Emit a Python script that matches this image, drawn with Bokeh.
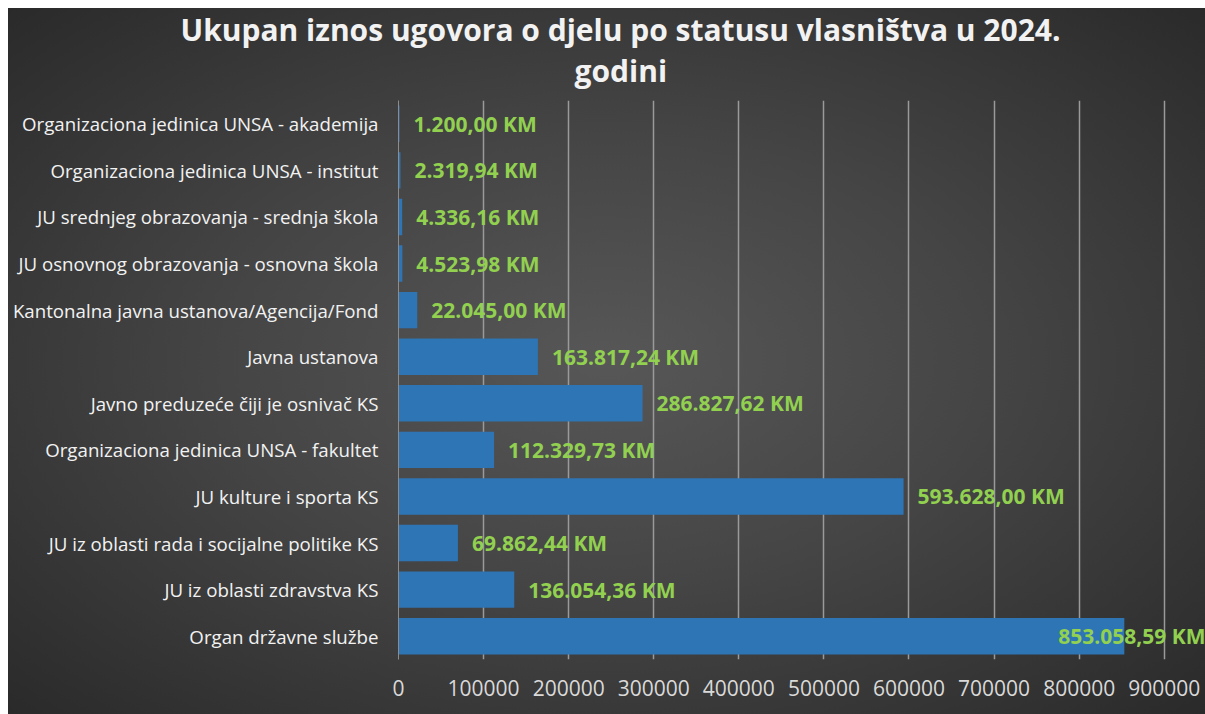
from bokeh.plotting import figure
from bokeh.models import FactorRange, FixedTicker, NumeralTickFormatter, Title, ColumnDataSource, Range1d
from bokeh.core.properties import value
from bokeh.embed import file_html
from bokeh.resources import INLINE

categories = [
    "Organizaciona jedinica UNSA - akademija",
    "Organizaciona jedinica UNSA - institut",
    "JU srednjeg obrazovanja - srednja škola",
    "JU osnovnog obrazovanja - osnovna škola",
    "Kantonalna javna ustanova/Agencija/Fond",
    "Javna ustanova",
    "Javno preduzeće čiji je osnivač KS",
    "Organizaciona jedinica UNSA - fakultet",
    "JU kulture i sporta KS",
    "JU iz oblasti rada i socijalne politike KS",
    "JU iz oblasti zdravstva KS",
    "Organ državne službe",
]
amounts = [1200.00, 2319.94, 4336.16, 4523.98, 22045.00, 163817.24, 286827.62,
           112329.73, 593628.00, 69862.44, 136054.36, 853058.59]
x_ticks = [0, 100000, 200000, 300000, 400000, 500000, 600000, 700000, 800000, 900000]
title_line1 = "Ukupan iznos ugovora o djelu po statusu vlasništva u 2024."
title_line2 = "godini"


def fmt_km(v):
    s = f"{v:,.2f}".replace(",", "X").replace(".", ",").replace("X", ".")
    return s + " KM"


labels = [fmt_km(v) for v in amounts]
offsets = [14 if v < 800000 else -66 for v in amounts]

src = ColumnDataSource(dict(cat=categories, amt=amounts, lab=labels, off=offsets))

FONT = "Open Sans"

p = figure(
    width=1197, height=706,
    y_range=FactorRange(*list(reversed(categories)), range_padding=0),
    x_range=Range1d(0, 948500),
    output_backend="svg", toolbar_location=None,
    min_border_left=390, min_border_right=0, min_border_top=92, min_border_bottom=55,
)
p.margin = (8, 0, 0, 8)
p.styles = {"background": "radial-gradient(ellipse at 50% 50%, #575757 0%, #454545 45%, #2a2a2a 100%)"}
p.background_fill_color = None
p.border_fill_color = None
p.outline_line_color = None

p.hbar(y="cat", right="amt", left=0, height=0.78, source=src,
       fill_color="#2E75B6", line_color=None)

p.text(x="amt", y="cat", text="lab", x_offset="off", source=src,
       text_font=value(FONT), text_font_style="bold", text_font_size="21px",
       text_color="#92D050", text_align="left", text_baseline="middle")

# axes
p.xaxis.ticker = FixedTicker(ticks=x_ticks)
p.xaxis.formatter = NumeralTickFormatter(format="0")
p.xaxis.axis_line_color = None
p.xaxis.major_tick_line_color = None
p.xaxis.minor_tick_line_color = None
p.xaxis.major_label_text_font = FONT
p.xaxis.major_label_text_font_size = "21px"
p.xaxis.major_label_text_color = "#d9d9d9"
p.xaxis.major_label_standoff = 14

p.yaxis.axis_line_color = "#8c8c8c"
p.yaxis.major_tick_line_color = None
p.yaxis.minor_tick_line_color = None
p.yaxis.major_label_text_font = FONT
p.yaxis.major_label_text_font_size = "18.7px"
p.yaxis.major_label_text_color = "#f2f2f2"
p.yaxis.major_label_standoff = 14

p.xgrid.grid_line_color = "#9a9a9a"
p.xgrid.grid_line_width = 1.5
p.ygrid.grid_line_color = None

t2 = Title(text=title_line2, align="left", offset=176, standoff=20, text_font=FONT,
           text_font_size="30px", text_font_style="bold", text_color="#f2f2f2")
t1 = Title(text=title_line1, align="left", offset=-218, standoff=-24, text_font=FONT,
           text_font_size="30px", text_font_style="bold", text_color="#f2f2f2")
p.add_layout(t2, "above")
p.add_layout(t1, "above")

open("out.html", "w").write(file_html(p, INLINE))
